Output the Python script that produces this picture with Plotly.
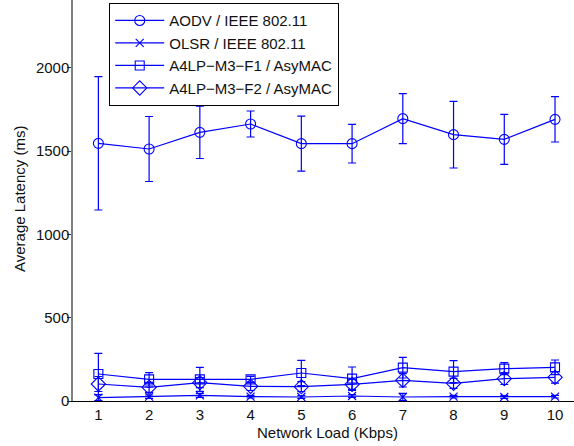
import plotly.graph_objects as go

loads = [1, 2, 3, 4, 5, 6, 7, 8, 9, 10]

aodv_mean = [1546, 1512, 1612, 1662, 1544, 1544, 1694, 1598, 1570, 1690]
aodv_err = [400, 195, 157, 78, 165, 116, 150, 200, 150, 136]

olsr_mean = [20, 26, 34, 26, 24, 30, 24, 26, 24, 26]
olsr_err = [18, 10, 12, 8, 8, 8, 22, 8, 8, 8]

f1_mean = [162, 130, 130, 130, 168, 134, 200, 176, 194, 202]
f1_err = [124, 40, 72, 18, 76, 70, 62, 66, 36, 44]

f2_mean = [102, 82, 110, 88, 86, 100, 124, 106, 134, 142]
f2_err = [45, 30, 30, 25, 30, 30, 40, 30, 35, 35]

y_ticks = [0, 500, 1000, 1500, 2000]

names = ["AODV / IEEE 802.11", "OLSR / IEEE 802.11",
         "A4LP\u2212M3\u2212F1 / AsyMAC", "A4LP\u2212M3\u2212F2 / AsyMAC"]
symbols = ["circle-open", "x-thin-open", "square-open", "diamond-open"]
sizes = [10, 8, 9, 11]

BLUE = "#0000ff"
FONT = "Liberation Sans, Arial, sans-serif"
TXT = "#111111"

fig = go.Figure()
series = [(aodv_mean, aodv_err), (olsr_mean, olsr_err), (f1_mean, f1_err), (f2_mean, f2_err)]
for (m, e), name, sym, sz in zip(series, names, symbols, sizes):
    fig.add_trace(go.Scatter(
        x=loads, y=m, name=name, mode="lines+markers",
        line=dict(color=BLUE, width=1.2),
        marker=dict(symbol=sym, size=sz, color=BLUE,
                    line=dict(color=BLUE, width=1.1)),
        error_y=dict(type="data", array=e, visible=True, color=BLUE,
                     thickness=1.2, width=4),
    ))

fig.update_layout(
    width=574, height=446,
    margin=dict(l=73, r=0, t=0, b=45),
    paper_bgcolor="white", plot_bgcolor="white",
    font=dict(family=FONT, size=15, color=TXT),
    showlegend=True,
    legend=dict(x=0.0719, y=0.9925, xanchor="left", yanchor="top",
                bgcolor="white", bordercolor="black", borderwidth=1.2,
                font=dict(size=15, color=TXT),
                tracegroupgap=0, itemwidth=49),
    xaxis=dict(range=[0.5, 10.374], tickmode="array", tickvals=loads,
               ticktext=[str(v) for v in loads],
               showline=True, linecolor="black", linewidth=1.2,
               ticks="", showgrid=False, zeroline=False,
               tickfont=dict(size=15)),
    yaxis=dict(range=[0, 2406], tickmode="array",
               tickvals=y_ticks,
               showline=True, linecolor="#808080", linewidth=1.5,
               ticks="outside", ticklen=4, tickcolor="#333333",
               ticklabelstandoff=-5,
               showgrid=False, zeroline=False,
               tickfont=dict(size=15)),
    annotations=[
        dict(text="Network Load (Kbps)", xref="paper", yref="paper",
             x=(327 - 73) / 501, y=(401 - 433) / 401, xanchor="center",
             yanchor="middle", showarrow=False, font=dict(size=15)),
        dict(text="Average Latency (ms)", xref="paper", yref="paper",
             x=(19.5 - 73) / 501, y=1 - 199.5 / 401, xanchor="center",
             yanchor="middle", textangle=-90, showarrow=False, font=dict(size=15)),
    ],
)

fig.write_html("out.html", config={"displayModeBar": False},
               post_script="document.body.style.margin='0';")
